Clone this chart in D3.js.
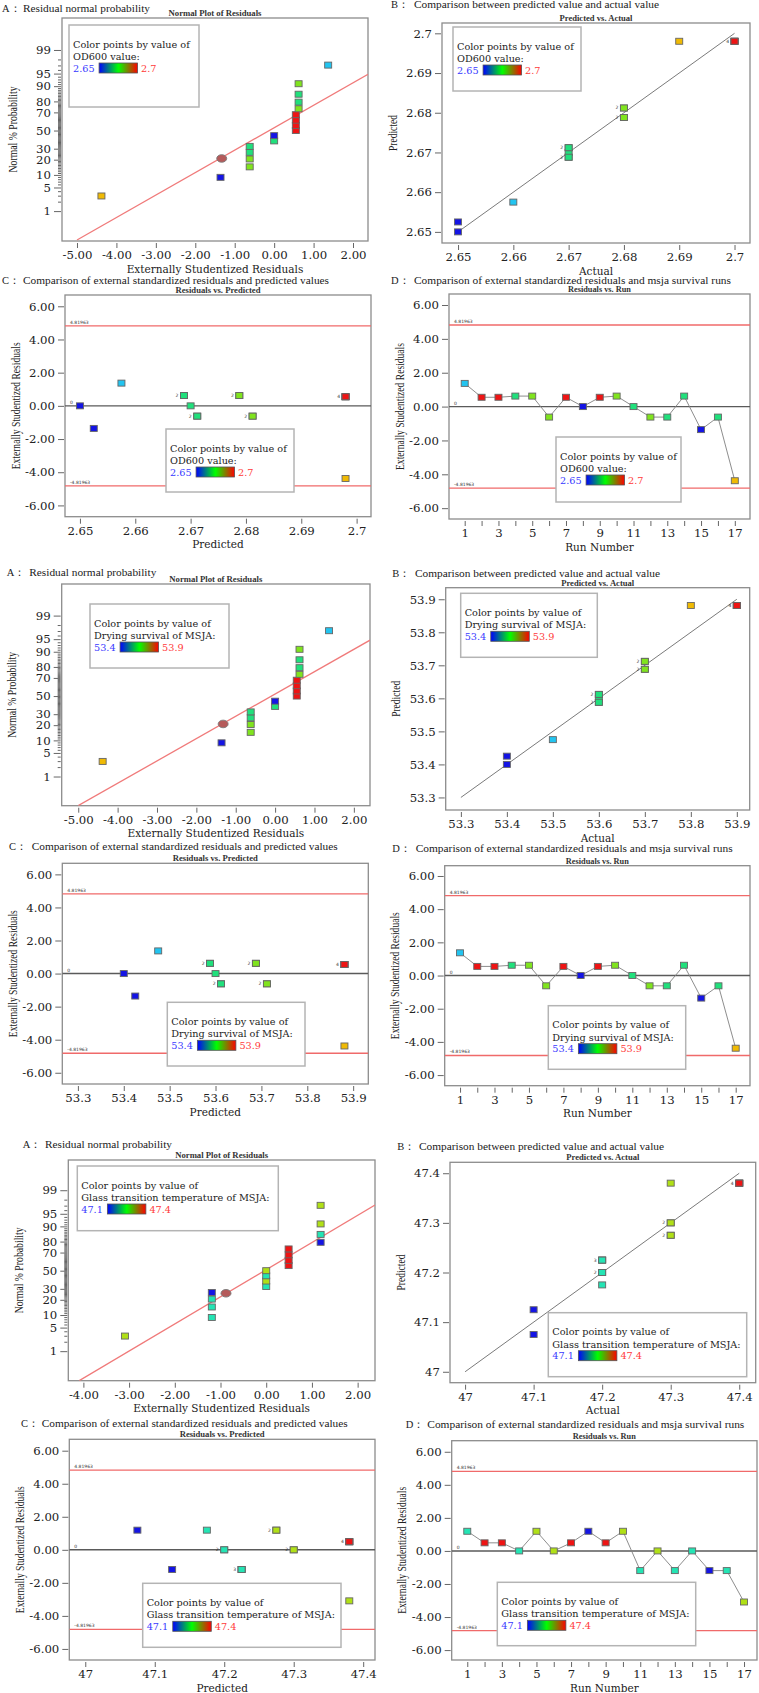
<!DOCTYPE html>
<html>
<head>
<meta charset="utf-8">
<script src="https://cdn.jsdelivr.net/npm/d3@7"></script>
<style>
  body { margin: 0; background: #fff; }
  .head { font-family: 'Liberation Serif', serif; font-size: 10.5px; fill: #1a1a1a; }
  .ttl { font-family: 'Liberation Serif', serif; font-weight: bold; font-size: 7.5px; fill: #333; }
  .ax text { font-family: 'DejaVu Serif', serif; font-size: 9px; fill: #222; }
  .xtitle { font-family: 'DejaVu Serif', serif; font-size: 11px; fill: #222; }
  .ytitle { font-family: 'Liberation Serif', serif; font-size: 12px; fill: #222; }
  .leg { font-family: 'DejaVu Serif', serif; font-size: 10px; fill: #222; }
  .tiny { font-family: 'DejaVu Sans', sans-serif; font-size: 4.5px; fill: #333; }
</style>
</head>
<body>
<svg id="fig" width="759" height="1693"></svg>
<script>
// ---- data ----
const runNumbers = [1, 2, 3, 4, 5, 6, 7, 8, 9, 10, 11, 12, 13, 14, 15, 16, 17];
const normPct = [2.94, 8.82, 14.71, 20.59, 26.47, 32.35, 38.24, 44.12, 50.00, 55.88, 61.76, 67.65, 73.53, 79.41, 85.29, 91.18, 97.06];
const probTicks = [1, 5, 10, 20, 30, 50, 70, 80, 90, 95, 99];
const residTicks = [-6, -4, -2, 0, 2, 4, 6];
const normTicksWide = [-5, -4, -3, -2, -1, 0, 1, 2];
const normTicksNarrow = [-4, -3, -2, -1, 0, 1, 2];
const limitValue = 4.81963;

// OD600
const odActual = [2.66, 2.7, 2.7, 2.67, 2.68, 2.68, 2.7, 2.65, 2.7, 2.68, 2.67, 2.68, 2.67, 2.67, 2.65, 2.67, 2.69];
const odPredicted = [2.6575, 2.698, 2.698, 2.6688, 2.6788, 2.6812, 2.698, 2.65, 2.698, 2.6788, 2.67, 2.6812, 2.6712, 2.6688, 2.6525, 2.6712, 2.698];
const odResidual = [1.37, 0.55, 0.55, 0.62, 0.62, -0.62, 0.55, 0.0, 0.55, 0.62, 0.0, -0.62, -0.62, 0.62, -1.36, -0.62, -4.38];
const odNormOrder = [17, 15, 6, 12, 13, 16, 11, 8, 2, 3, 7, 9, 5, 4, 14, 10, 1];
const odTicks = [2.65, 2.66, 2.67, 2.68, 2.69, 2.7];
const odRange = [2.65, 2.7];
const odNormLine = [[-5.0, 0.079], [2.38, 94.8]];
const odNormMark = [-1.33, 21];

// Drying survival of MSJA
const dsActual = [53.5, 53.9, 53.9, 53.6, 53.7, 53.7, 53.9, 53.4, 53.9, 53.7, 53.6, 53.7, 53.6, 53.6, 53.4, 53.6, 53.8];
const dsPredicted = [53.475, 53.881, 53.881, 53.588, 53.688, 53.712, 53.881, 53.4, 53.881, 53.688, 53.6, 53.712, 53.612, 53.588, 53.425, 53.612, 53.881];
const dsResidual = [1.37, 0.55, 0.55, 0.62, 0.62, -0.62, 0.55, 0.0, 0.55, 0.62, 0.0, -0.62, -0.62, 0.62, -1.36, -0.62, -4.38];
const dsNormOrder = [17, 15, 6, 12, 13, 16, 11, 8, 2, 3, 7, 9, 5, 4, 14, 10, 1];
const dsTicks = [53.3, 53.4, 53.5, 53.6, 53.7, 53.8, 53.9];
const dsRange = [53.4, 53.9];
const dsNormLine = [[-5.0, 0.077], [2.41, 94.7]];
const dsNormMark = [-1.32, 21];

// Glass transition temperature of MSJA
const gtActual = [47.2, 47.4, 47.4, 47.2, 47.3, 47.3, 47.4, 47.1, 47.4, 47.3, 47.2, 47.3, 47.2, 47.2, 47.1, 47.2, 47.3];
const gtPredicted = [47.175, 47.38, 47.38, 47.2, 47.275, 47.3, 47.38, 47.075, 47.38, 47.275, 47.225, 47.3, 47.225, 47.2, 47.125, 47.225, 47.38];
const gtResidual = [1.19, 0.49, 0.49, 0.0, 1.19, 0.0, 0.49, 1.19, 0.49, 1.19, -1.19, 0.0, -1.19, 0.0, -1.19, -1.19, -3.09];
const gtNormOrder = [17, 11, 13, 16, 15, 4, 6, 14, 12, 2, 3, 7, 9, 8, 1, 5, 10];
const gtTicks = [47, 47.1, 47.2, 47.3, 47.4];
const gtRange = [47.1, 47.4];
const gtNormLine = [[-4.09, 0.074], [2.38, 97.1]];
const gtNormMark = [-0.88, 25.7];

const groups = [
    { name: 'OD600 value', actual: odActual, predicted: odPredicted, residual: odResidual, normOrder: odNormOrder,
      ticks: odTicks, range: odRange, normTicks: normTicksWide, normLine: odNormLine, normMark: odNormMark },
    { name: 'Drying survival of MSJA', actual: dsActual, predicted: dsPredicted, residual: dsResidual, normOrder: dsNormOrder,
      ticks: dsTicks, range: dsRange, normTicks: normTicksWide, normLine: dsNormLine, normMark: dsNormMark },
    { name: 'Glass transition temperature of MSJA', actual: gtActual, predicted: gtPredicted, residual: gtResidual, normOrder: gtNormOrder,
      ticks: gtTicks, range: gtRange, normTicks: normTicksNarrow, normLine: gtNormLine, normMark: gtNormMark }
];

const headText = {
    A: 'Residual normal probability',
    B: 'Comparison between predicted value and actual value',
    C: 'Comparison of external standardized residuals and predicted values',
    D: 'Comparison of external standardized residuals and msja survival runs'
};
const headLen = { A: 127, B: 245, C: 306, D: 317 };
const plotTitle = { A: 'Normal Plot of Residuals', B: 'Predicted vs. Actual', C: 'Residuals vs. Predicted', D: 'Residuals vs. Run' };
const titleLen = { A: 93, B: 73, C: 85, D: 63 };
const xTitle = { A: 'Externally Studentized Residuals', B: 'Actual', C: 'Predicted', D: 'Run Number' };
const yTitle = { A: 'Normal % Probability', B: 'Predicted', C: 'Externally Studentized Residuals', D: 'Externally Studentized Residuals' };
const yTitleLen = { A: 86, B: 36, C: 127, D: 127 };

// ---- layout: plot box [x0, y0, x1, y1], axis extents, legend box, heading [letterX, textX, baseline] ----
const layout = [
    { grp: 0, kind: 'A', box: [62, 18, 368, 241], xd: [-5.38, 2.38], yd: [-3.19, 3.25], leg: [69, 25, 199, 107], head: [2, 23, 11.5] },
    { grp: 0, kind: 'B', box: [442, 23, 750, 243], xd: [2.6471, 2.7028], yd: [2.6472, 2.7026], leg: [453, 27, 581, 91], head: [391, 414, 7.5] },
    { grp: 0, kind: 'C', box: [65, 295, 371, 516.7], xd: [2.6473, 2.7026], yd: [-6.68, 6.68], leg: [166, 429, 294, 492], head: [2, 23, 284] },
    { grp: 0, kind: 'D', box: [449, 294, 750, 519], xd: [0.07, 17.9], yd: [-6.64, 6.65], leg: [556, 437, 681, 502], head: [391, 414, 284] },

    { grp: 1, kind: 'A', box: [61.7, 584, 370, 805.7], xd: [-5.42, 2.41], yd: [-3.17, 3.24], leg: [90, 604, 229, 668], head: [6.7, 29.3, 576] },
    { grp: 1, kind: 'B', box: [445.7, 587.7, 749.7, 810], xd: [53.267, 53.928], yd: [53.262, 53.935], leg: [460.7, 593.3, 597.3, 657.3], head: [392.3, 415, 577] },
    { grp: 1, kind: 'C', box: [62.3, 863.3, 368.3, 1084], xd: [53.266, 53.933], yd: [-6.68, 6.67], leg: [167.3, 1002.3, 305, 1066], head: [9, 31.7, 850] },
    { grp: 1, kind: 'D', box: [444.7, 865.7, 750, 1085.7], xd: [0.11, 17.83], yd: [-6.64, 6.62], leg: [548.3, 1005.7, 685.7, 1069.3], head: [392.3, 415.7, 851.5] },

    { grp: 2, kind: 'A', box: [68.3, 1160, 375, 1380.7], xd: [-4.33, 2.38], yd: [-3.18, 3.2], leg: [77.3, 1166, 278.3, 1230.7], head: [22.7, 45, 1147.5] },
    { grp: 2, kind: 'B', box: [450, 1162.3, 755.7, 1382.7], xd: [46.978, 47.424], yd: [46.978, 47.422], leg: [548.3, 1312.7, 746.7, 1376.7], head: [397.3, 419, 1149.5] },
    { grp: 2, kind: 'C', box: [69.3, 1439.3, 375, 1660], xd: [46.977, 47.417], yd: [-6.67, 6.69], leg: [142.7, 1583.3, 341, 1647.3], head: [21, 41.7, 1427] },
    { grp: 2, kind: 'D', box: [451.7, 1440.7, 757, 1660], xd: [0.1, 17.75], yd: [-6.6, 6.67], leg: [497.3, 1582.3, 695.7, 1645.7], head: [405.7, 427.3, 1427.5] }
];

const svg = d3.select('#fig');
svg.append('rect').attr('width', 759).attr('height', 1693).attr('fill', 'white');

// size fonts so that sample strings get the widths measured on the figure
function fitSize(cls, sample, target, base) {
    const t = svg.append('text').attr('class', cls).style('font-size', base + 'px').text(sample),
        w = t.node().getComputedTextLength();
    t.remove();
    return w > 0 ? base * target / w : base;
}

const legSize = fitSize('leg', 'Color points by value of', 117, 10),
    xTitleSize = fitSize('xtitle', 'Externally Studentized Residuals', 177, 11),
    tickSize = fitSize('ax', '2.65', 20.5, 9);

d3.select('head').append('style').text(
    `.leg{font-size:${legSize}px}.xtitle{font-size:${xTitleSize}px}.ax text{font-size:${tickSize}px}`
);

const defs = svg.append('defs');
defs.append('linearGradient').attr('id', 'legendGrad')
    .selectAll('stop')
    .data([[0, '#0000ff'], [0.5, '#00ff00'], [1, '#ff0000']])
    .join('stop')
    .attr('offset', d => d[0])
    .attr('stop-color', d => d[1]);

// colour of a point by its actual value within the legend range
const pointColor = d3.scaleLinear()
    .domain([0, 0.2, 1 / 3, 0.4, 0.6, 2 / 3, 0.8, 1])
    .range(['#1414e4', '#22c4f0', '#24e4b4', '#20e07c', '#80e41e', '#b0e016', '#f0ba04', '#ee1414'])
    .clamp(true);

function colorOf(grp, v) {
    return pointColor((v - grp.range[0]) / (grp.range[1] - grp.range[0]));
}

// inverse normal cdf (Acklam)
function probit(p) {
    const a = [-3.969683028665376e+01, 2.209460984245205e+02, -2.759285104469687e+02, 1.383577518672690e+02, -3.066479806614716e+01, 2.506628277459239e+00],
        b = [-5.447609879822406e+01, 1.615858368580409e+02, -1.556989798598866e+02, 6.680131188771972e+01, -1.328068155288572e+01],
        c = [-7.784894002430293e-03, -3.223964580411365e-01, -2.400758277161838e+00, -2.549732539343734e+00, 4.374664141464968e+00, 2.938163982698783e+00],
        d = [7.784695709041462e-03, 3.224671290700398e-01, 2.445134137142996e+00, 3.754408661907416e+00],
        pl = 0.02425;
    let q, r;
    if (p < pl) {
        q = Math.sqrt(-2 * Math.log(p));
        return (((((c[0] * q + c[1]) * q + c[2]) * q + c[3]) * q + c[4]) * q + c[5]) / ((((d[0] * q + d[1]) * q + d[2]) * q + d[3]) * q + 1);
    }
    if (p > 1 - pl) {
        q = Math.sqrt(-2 * Math.log(1 - p));
        return -(((((c[0] * q + c[1]) * q + c[2]) * q + c[3]) * q + c[4]) * q + c[5]) / ((((d[0] * q + d[1]) * q + d[2]) * q + d[3]) * q + 1);
    }
    q = p - 0.5;
    r = q * q;
    return (((((a[0] * r + a[1]) * r + a[2]) * r + a[3]) * r + a[4]) * r + a[5]) * q / (((((b[0] * r + b[1]) * r + b[2]) * r + b[3]) * r + b[4]) * r + 1);
}

function styleAxis(g) {
    g.attr('class', 'ax').attr('color', '#555');
    g.select('.domain').remove();
    g.selectAll('line').attr('stroke-width', 0.9);
}

function addSquares(g, pts, xs, ys) {
    g.selectAll(null)
        .data(pts)
        .join('rect')
        .attr('x', d => xs(d.x) - 3.5)
        .attr('y', d => ys(d.y) - 3)
        .attr('width', 7)
        .attr('height', 6)
        .attr('fill', d => d.c)
        .attr('stroke', '#666')
        .attr('stroke-width', 0.9);
}

function addCounts(g, pts, xs, ys) {
    const counts = d3.rollups(pts, v => v.length, d => d.x + '|' + d.y)
        .filter(d => d[1] > 1);
    g.selectAll(null)
        .data(counts)
        .join('text')
        .attr('class', 'tiny')
        .attr('text-anchor', 'end')
        .attr('x', d => xs(+d[0].split('|')[0]) - 5.5)
        .attr('y', d => ys(+d[0].split('|')[1]) + 1.5)
        .text(d => d[1]);
}

function drawLegend(cfg, grp) {
    const [lx0, ly0, lx1, ly1] = cfg.leg,
        g = svg.append('g');

    g.append('rect')
        .attr('x', lx0).attr('y', ly0)
        .attr('width', lx1 - lx0).attr('height', ly1 - ly0)
        .attr('fill', 'white')
        .attr('stroke', '#b4b4b4')
        .attr('stroke-width', 1.5);

    g.append('text').attr('class', 'leg').attr('x', lx0 + 4).attr('y', ly0 + 22.5).text('Color points by value of');
    g.append('text').attr('class', 'leg').attr('x', lx0 + 4).attr('y', ly0 + 35).text(grp.name + ':');

    const lo = g.append('text').attr('class', 'leg')
        .attr('x', lx0 + 4).attr('y', ly0 + 46.5)
        .style('fill', '#3a3aff')
        .text(grp.range[0]);
    const gx = lx0 + 4 + lo.node().getComputedTextLength() + 4.5;

    g.append('rect')
        .attr('x', gx).attr('y', ly0 + 38)
        .attr('width', 38.5).attr('height', 10)
        .attr('fill', 'url(#legendGrad)')
        .attr('stroke', '#555')
        .attr('stroke-width', 0.8);

    g.append('text').attr('class', 'leg')
        .attr('x', gx + 42).attr('y', ly0 + 46.5)
        .style('fill', '#ff3a3a')
        .text(grp.range[1]);
}

function drawPanel(cfg, i) {
    const grp = groups[cfg.grp],
        [x0, y0, x1, y1] = cfg.box,
        x = d3.scaleLinear().domain(cfg.xd).range([x0, x1]),
        y = d3.scaleLinear().domain(cfg.yd).range([y1, y0]),
        clipId = 'clip' + i,
        g = svg.append('g');

    defs.append('clipPath').attr('id', clipId)
        .append('rect').attr('x', x0).attr('y', y0).attr('width', x1 - x0).attr('height', y1 - y0);

    // headings
    const [hx, tx, hy] = cfg.head;
    g.append('text').attr('class', 'head').attr('x', hx).attr('y', hy).text(cfg.kind + '：');
    g.append('text').attr('class', 'head').attr('x', tx).attr('y', hy)
        .attr('textLength', headLen[cfg.kind]).attr('lengthAdjust', 'spacingAndGlyphs')
        .text(headText[cfg.kind]);

    g.append('text').attr('class', 'ttl')
        .attr('x', (x0 + x1) / 2).attr('y', y0 - 2)
        .attr('text-anchor', 'middle')
        .attr('textLength', titleLen[cfg.kind]).attr('lengthAdjust', 'spacingAndGlyphs')
        .text(plotTitle[cfg.kind]);

    // plot frame
    g.append('rect')
        .attr('x', x0).attr('y', y0)
        .attr('width', x1 - x0).attr('height', y1 - y0)
        .attr('fill', 'white')
        .attr('stroke', '#8c8c8c')
        .attr('stroke-width', 1.3);

    // axes
    const xAxis = d3.axisBottom(x).tickSize(5).tickPadding(2.5).tickSizeOuter(0);
    let yAxis = d3.axisLeft(y).tickSize(6).tickPadding(3).tickSizeOuter(0);

    if (cfg.kind === 'A') {
        xAxis.tickValues(grp.normTicks).tickFormat(d => d.toFixed(2));
        yAxis = d3.axisLeft(y).tickSize(7).tickPadding(3)
            .tickValues(probTicks.map(p => probit(p / 100)))
            .tickFormat((d, k) => probTicks[k]);
        const minor = d3.range(1, 100).filter(p => !probTicks.includes(p)).map(p => probit(p / 100));
        g.append('g')
            .attr('transform', `translate(${x0 - 1},0)`)
            .call(d3.axisLeft(y).tickValues(minor).tickFormat('').tickSize(3).tickSizeOuter(0))
            .call(styleAxis);
    } else if (cfg.kind === 'B') {
        xAxis.tickValues(grp.ticks).tickFormat(d => String(d));
        yAxis.tickValues(grp.ticks).tickFormat(d => String(d));
    } else if (cfg.kind === 'C') {
        xAxis.tickValues(grp.ticks).tickFormat(d => String(d));
        yAxis.tickValues(residTicks).tickFormat(d => d.toFixed(2));
    } else {
        xAxis.tickValues(runNumbers).tickFormat(d => (d % 2 ? d : ''));
        yAxis.tickValues(residTicks).tickFormat(d => d.toFixed(2));
    }

    g.append('g').attr('transform', `translate(0,${y1 + 2})`).call(xAxis).call(styleAxis);
    g.append('g').attr('transform', `translate(${x0 - 1},0)`).call(yAxis).call(styleAxis);

    // axis titles
    g.append('text').attr('class', 'xtitle')
        .attr('x', (x0 + x1) / 2).attr('y', y1 + 31.5)
        .attr('text-anchor', 'middle')
        .text(xTitle[cfg.kind]);

    g.append('text').attr('class', 'ytitle')
        .attr('transform', `translate(${x0 - 45.3},${(y0 + y1) / 2}) rotate(-90)`)
        .attr('text-anchor', 'middle')
        .attr('textLength', yTitleLen[cfg.kind]).attr('lengthAdjust', 'spacingAndGlyphs')
        .text(yTitle[cfg.kind]);

    const marks = g.append('g').attr('clip-path', `url(#${clipId})`);

    if (cfg.kind === 'A') {
        const yp = p => y(probit(p / 100)),
            pts = grp.normOrder.map((run, k) => ({
                x: grp.residual[run - 1], y: probit(normPct[k] / 100), c: colorOf(grp, grp.actual[run - 1])
            }));

        marks.append('line')
            .attr('x1', x(grp.normLine[0][0])).attr('y1', yp(grp.normLine[0][1]))
            .attr('x2', x(grp.normLine[1][0])).attr('y2', yp(grp.normLine[1][1]))
            .attr('stroke', '#f07a7a')
            .attr('stroke-width', 1.3);

        addSquares(marks, pts, x, y);

        marks.append('ellipse')
            .attr('cx', x(grp.normMark[0])).attr('cy', yp(grp.normMark[1]))
            .attr('rx', 5).attr('ry', 3.8)
            .attr('fill', '#b55a5a')
            .attr('stroke', '#7a7a7a')
            .attr('stroke-width', 0.9);
    } else if (cfg.kind === 'B') {
        const pts = grp.actual.map((v, k) => ({ x: v, y: grp.predicted[k], c: colorOf(grp, v) })),
            lo = grp.ticks[0],
            hi = grp.ticks[grp.ticks.length - 1];

        marks.append('line')
            .attr('x1', x(lo)).attr('y1', y(lo))
            .attr('x2', x(hi)).attr('y2', y(hi))
            .attr('stroke', '#7a7a7a')
            .attr('stroke-width', 1);

        addSquares(marks, pts, x, y);
        addCounts(marks, pts, x, y);
    } else {
        const pts = grp.residual.map((r, k) => ({
            x: cfg.kind === 'C' ? grp.predicted[k] : runNumbers[k], y: r, c: colorOf(grp, grp.actual[k])
        }));

        [limitValue, -limitValue].forEach(v => {
            marks.append('line')
                .attr('x1', x0).attr('x2', x1)
                .attr('y1', y(v)).attr('y2', y(v))
                .attr('stroke', '#f06a6a')
                .attr('stroke-width', 1.3);
            marks.append('text').attr('class', 'tiny')
                .attr('x', x0 + 5).attr('y', y(v) - 2)
                .text(v.toFixed(5));
        });

        marks.append('line')
            .attr('x1', x0).attr('x2', x1)
            .attr('y1', y(0)).attr('y2', y(0))
            .attr('stroke', '#5a5a5a')
            .attr('stroke-width', 1.4);
        marks.append('text').attr('class', 'tiny')
            .attr('x', x0 + 5).attr('y', y(0) - 2)
            .text('0');

        if (cfg.kind === 'D') {
            marks.append('path')
                .datum(pts)
                .attr('d', d3.line().x(d => x(d.x)).y(d => y(d.y)))
                .attr('fill', 'none')
                .attr('stroke', '#808080')
                .attr('stroke-width', 0.9);
        }

        addSquares(marks, pts, x, y);
        if (cfg.kind === 'C') addCounts(marks, pts, x, y);
    }

    drawLegend(cfg, grp);
}

layout.forEach(drawPanel);
</script>
</body>
</html>
